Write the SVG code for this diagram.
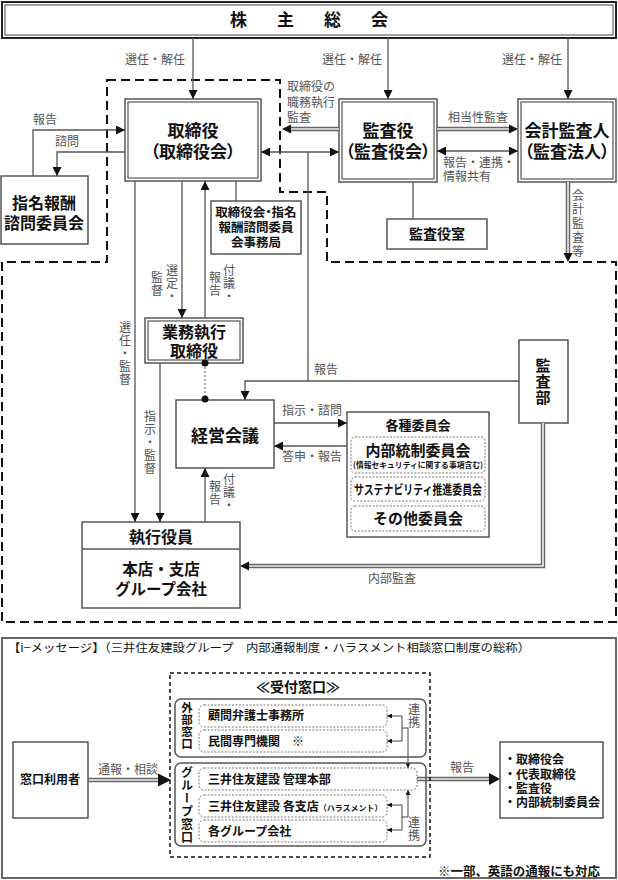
<svg xmlns="http://www.w3.org/2000/svg" width="618" height="880" viewBox="0 0 618 880">
<defs>
<marker id="ah" viewBox="0 0 10 10" refX="10" refY="5" markerWidth="9" markerHeight="9" markerUnits="userSpaceOnUse" orient="auto-start-reverse"><path d="M0,0L10,5L0,10z" fill="#111"/></marker>
<marker id="as" viewBox="0 0 10 10" refX="10" refY="5" markerWidth="5" markerHeight="5" markerUnits="userSpaceOnUse" orient="auto-start-reverse"><path d="M0,0L10,5L0,10z" fill="#111"/></marker>
</defs>
<style>
.bx{fill:#fff;stroke:#555;stroke-width:1.5}
.bi{fill:none;stroke:#555;stroke-width:1.2}
.ln{fill:none;stroke:#555;stroke-width:1.3}
.lt{fill:none;stroke:#444;stroke-width:1}
.t{font-family:"Noto Sans CJK JP","Noto Sans",sans-serif;font-weight:bold;fill:#111}
.p{font-feature-settings:"palt"}
.lb{font-family:"Noto Sans CJK JP","Noto Sans",sans-serif;fill:#555;font-size:12px}
.vt{writing-mode:vertical-rl;text-anchor:middle}
.m{text-anchor:middle}
.dsh{fill:none;stroke:#111;stroke-width:2;stroke-dasharray:9 5}
.dot{fill:#fff;stroke:#777;stroke-width:1;stroke-dasharray:2 1.5}
.d1{fill:none;stroke:#666;stroke-width:4.5}
.d2{fill:none;stroke:#eee;stroke-width:1.6}
.ahf{fill:#111}
</style>
<rect width="618" height="880" fill="#fff"/>

<!-- dashed region -->
<polygon class="dsh" points="107,80 280,80 280,192 327,192 327,262 616,262 616,622 2,622 2,262 107,262"/>

<g id="n-kabunushi">
<rect x="2" y="2" width="614" height="36" fill="#fff" stroke="#222" stroke-width="2"/>
<rect x="5" y="5" width="608" height="30" fill="none" stroke="#444" stroke-width="1"/>
<text class="t" font-size="17" y="26"><tspan x="230">株</tspan><tspan x="277">主</tspan><tspan x="324">総</tspan><tspan x="371">会</tspan></text>
</g>

<g id="n-torishimari">
<rect class="bx" x="125" y="99" width="136" height="82"/>
<rect class="bi" x="128" y="102" width="130" height="76"/>
<text class="t m" x="193" y="137" font-size="17">取締役</text>
<text class="t m p" x="193" y="158" font-size="17">（取締役会）</text>
</g>

<g id="n-kansayaku">
<rect class="bx" x="339" y="99" width="98" height="83"/>
<rect class="bi" x="342" y="102" width="92" height="77"/>
<text class="t m" x="388" y="137" font-size="17">監査役</text>
<text class="t m p" x="388" y="158" font-size="17">（監査役会）</text>
</g>

<g id="n-kaikei">
<rect class="bx" x="518" y="99" width="98" height="83"/>
<rect class="bi" x="521" y="102" width="92" height="77"/>
<text class="t m" x="567" y="137" font-size="17">会計監査人</text>
<text class="t m p" x="567" y="158" font-size="17">（監査法人）</text>
</g>

<g id="n-shimei">
<rect class="bx" x="1" y="176" width="87" height="68"/>
<text class="t m" x="44" y="209" font-size="16">指名報酬</text>
<text class="t m" x="44" y="229" font-size="16">諮問委員会</text>
</g>

<g id="n-jimukyoku">
<rect class="bx" x="211" y="201" width="90" height="53"/>
<text class="t m p" x="256" y="217" font-size="12.5">取締役会・指名</text>
<text class="t m" x="256" y="232" font-size="12.5">報酬諮問委員</text>
<text class="t m" x="256" y="247" font-size="12.5">会事務局</text>
</g>

<g id="n-kansayakushitsu">
<rect class="bx" x="387" y="219" width="100" height="30"/>
<text class="t m" x="437" y="239" font-size="14">監査役室</text>
</g>

<g id="n-gyomu">
<rect class="bx" x="145" y="318" width="98" height="45"/>
<rect class="bi" x="148" y="321" width="92" height="39"/>
<text class="t m" x="194" y="338" font-size="16">業務執行</text>
<text class="t m" x="194" y="357" font-size="16">取締役</text>
</g>

<g id="n-keiei">
<rect class="bx" x="176" y="400" width="98" height="68"/>
<text class="t m" x="225" y="442" font-size="17">経営会議</text>
</g>

<g id="n-iinkai">
<rect class="bx" x="347" y="412" width="142" height="125"/>
<text class="t m" x="418" y="430" font-size="13">各種委員会</text>
<rect class="dot" x="351" y="437" width="134" height="36" rx="4"/>
<text class="t m" x="418" y="456" font-size="15">内部統制委員会</text>
<text class="t m" x="418" y="468" font-size="8" textLength="130" lengthAdjust="spacingAndGlyphs">(情報セキュリティに関する事項含む)</text>
<rect class="dot" x="351" y="477" width="134" height="24" rx="4"/>
<text class="t m" x="418" y="494" font-size="13" textLength="128" lengthAdjust="spacingAndGlyphs">サステナビリティ推進委員会</text>
<rect class="dot" x="351" y="506" width="134" height="25" rx="4"/>
<text class="t m" x="418" y="524" font-size="15">その他委員会</text>
</g>

<g id="n-kansabu">
<rect class="bx" x="519" y="340" width="49" height="83"/>
<text class="t vt" x="543" y="382" font-size="15" letter-spacing="1">監査部</text>
</g>

<g id="n-shikko">
<rect class="bx" x="82" y="522" width="158" height="86"/>
<line x1="82" y1="549" x2="240" y2="549" stroke="#555" stroke-width="1.3"/>
<text class="t m" x="161" y="543" font-size="16">執行役員</text>
<text class="t m" x="161" y="575" font-size="15.5">本店・支店</text>
<text class="t m" x="161" y="595" font-size="15.5">グループ会社</text>
</g>

<g id="connectors">
<path class="ln" d="M193,38V99" marker-end="url(#ah)"/>
<path class="ln" d="M388,38V99" marker-end="url(#ah)"/>
<path class="ln" d="M568,38V99" marker-end="url(#ah)"/>
<path class="ln" d="M33,176V130H125" marker-end="url(#ah)"/>
<path class="ln" d="M125,152H57V176" marker-end="url(#ah)"/>
<path class="ln" d="M261,152H339" marker-start="url(#ah)" marker-end="url(#ah)"/>
<path class="ln" d="M308,152V381"/>
<path class="ln" d="M519,381H245V400" marker-end="url(#ah)"/>
<path class="ln" d="M413,182V219"/>
<path class="ln" d="M236,181V201"/>
<path class="ln" d="M135,181V522" marker-end="url(#ah)"/>
<path class="ln" d="M182,181V318" marker-end="url(#ah)"/>
<path class="ln" d="M205,318V181" marker-end="url(#ah)"/>
<path d="M205,363V399" fill="none" stroke="#666" stroke-width="1" stroke-dasharray="2 2"/>
<circle cx="205" cy="363" r="3.5" fill="#111"/>
<circle cx="205" cy="399" r="3.5" fill="#111"/>
<path class="ln" d="M160,363V522" marker-end="url(#ah)"/>
<path class="ln" d="M274,423H347" marker-end="url(#ah)"/>
<path class="ln" d="M347,446H274" marker-end="url(#ah)"/>
<path class="ln" d="M205,522V468" marker-end="url(#ah)"/>
<path class="ln" d="M437,151H518" marker-start="url(#ah)" marker-end="url(#ah)"/>
<path class="d1" d="M339,129H290"/><path class="d2" d="M339,129H290"/>
<polygon class="ahf" points="282,129 291,124.5 291,133.5"/>
<path class="d1" d="M437,129H510"/><path class="d2" d="M437,129H510"/>
<polygon class="ahf" points="518,129 509,124.5 509,133.5"/>
<path class="d1" d="M568,182V254"/><path class="d2" d="M568,182V254"/>
<polygon class="ahf" points="568,262 563.5,253 572.5,253"/>
<path class="d1" d="M543,423V566H248"/><path class="d2" d="M543,423V566H248"/>
<polygon class="ahf" points="240,566 249,561.5 249,570.5"/>
<path class="d1" d="M88,780H160"/><path class="d2" d="M88,780H160"/>
<polygon class="ahf" points="171,780 158,773.5 158,786.5"/>
<path class="d1" d="M417,779H490"/><path class="d2" d="M417,779H490"/>
<polygon class="ahf" points="500,779 489,773 489,785"/>
<path class="lt" d="M402,716H387" marker-end="url(#as)"/>
<path class="lt" d="M402,741H387" marker-end="url(#as)"/>
<path class="lt" d="M402,716V741"/>
<path class="lt" d="M402,728H408V768" marker-end="url(#as)"/>
<path class="lt" d="M402,805H387" marker-end="url(#as)"/>
<path class="lt" d="M402,830H387" marker-end="url(#as)"/>
<path class="lt" d="M402,805V830"/>
<path class="lt" d="M402,817H408V790" marker-end="url(#as)"/>
</g>

<g id="labels">
<text class="lb" x="185" y="64" text-anchor="end">選任・解任</text>
<text class="lb" x="382" y="64" text-anchor="end">選任・解任</text>
<text class="lb" x="562" y="64" text-anchor="end">選任・解任</text>
<text class="lb" x="45" y="124" text-anchor="middle">報告</text>
<text class="lb" x="67" y="146" text-anchor="middle">諮問</text>
<text class="lb" x="287" y="91">取締役の</text>
<text class="lb" x="287" y="107">職務執行</text>
<text class="lb" x="287" y="122">監査</text>
<text class="lb" x="448" y="122">相当性監査</text>
<text class="lb" x="443" y="167">報告・連携・</text>
<text class="lb" x="443" y="181">情報共有</text>
<text class="lb vt" x="578" y="224" font-size="11" letter-spacing="2">会計監査等</text>
<text class="lb vt" x="172" y="284" font-size="11" letter-spacing="1">選定・</text>
<text class="lb vt" x="157" y="284" font-size="11" letter-spacing="1">監督</text>
<text class="lb vt" x="229" y="284" font-size="11" letter-spacing="1">付議・</text>
<text class="lb vt" x="215" y="284" font-size="11" letter-spacing="1">報告</text>
<text class="lb vt" x="125" y="354" font-size="11" letter-spacing="1">選任・監督</text>
<text class="lb vt" x="150" y="443" font-size="11" letter-spacing="1">指示・監督</text>
<text class="lb vt" x="229" y="493" font-size="11" letter-spacing="1">付議・</text>
<text class="lb vt" x="215" y="493" font-size="11" letter-spacing="1">報告</text>
<text class="lb" x="326" y="374" text-anchor="middle">報告</text>
<text class="lb" x="282" y="415">指示・諮問</text>
<text class="lb" x="282" y="461">答申・報告</text>
<text class="lb" x="392" y="583" text-anchor="middle">内部監査</text>
<text class="lb" x="128" y="774" text-anchor="middle">通報・相談</text>
<text class="lb" x="462" y="772" text-anchor="middle">報告</text>
<text class="lb vt" x="414" y="716" font-size="11" letter-spacing="1">連携</text>
<text class="lb vt" x="414" y="829" font-size="11" letter-spacing="1">連携</text>
</g>

<g id="n-imessage">
<rect x="2" y="638" width="614" height="240" fill="none" stroke="#666" stroke-width="2"/>
<text x="8" y="652" font-family="'Noto Sans CJK JP',sans-serif" font-size="11.5" fill="#111" textLength="522" lengthAdjust="spacingAndGlyphs">【i−メッセージ】（三井住友建設グループ　内部通報制度・ハラスメント相談窓口制度の総称）</text>
<text class="t" x="438" y="876" font-size="12.5" textLength="162" lengthAdjust="spacingAndGlyphs">※一部、英語の通報にも対応</text>
</g>

<g id="n-uketsuke">
<rect x="170" y="673" width="260" height="184" fill="none" stroke="#111" stroke-width="1.5" stroke-dasharray="4 3"/>
<text class="t m" x="298" y="692" font-size="14">≪受付窓口≫</text>
</g>

<g id="n-gaibu">
<rect x="175" y="699" width="251" height="58" rx="6" fill="none" stroke="#555" stroke-width="1.5"/>
<text class="t vt" x="187" y="726" font-size="11.5" letter-spacing="0.5">外部窓口</text>
<rect class="dot" x="199" y="705" width="188" height="22" rx="5"/>
<text class="t" x="208" y="720" font-size="12">顧問弁護士事務所</text>
<rect class="dot" x="199" y="730" width="188" height="22" rx="5"/>
<text class="t" x="208" y="746" font-size="12">民間専門機関　※</text>
</g>

<g id="n-group">
<rect x="175" y="763" width="251" height="83" rx="6" fill="none" stroke="#555" stroke-width="1.5"/>
<text class="t vt" x="187" y="805" font-size="12" letter-spacing="1">グループ窓口</text>
<rect class="dot" x="199" y="768" width="218" height="22" rx="5"/>
<text class="t" x="208" y="784" font-size="12">三井住友建設 管理本部</text>
<rect class="dot" x="199" y="795" width="188" height="22" rx="5"/>
<text class="t" x="208" y="811" font-size="12">三井住友建設 各支店<tspan font-size="8">（ハラスメント）</tspan></text>
<rect class="dot" x="199" y="820" width="188" height="22" rx="5"/>
<text class="t" x="208" y="836" font-size="12">各グループ会社</text>
</g>

<g id="n-riyosha">
<rect class="bx" x="13" y="742" width="75" height="76"/>
<text class="t m" x="50" y="784" font-size="12">窓口利用者</text>
</g>

<g id="n-hokokusaki">
<rect class="bx" x="500" y="742" width="103" height="76"/>
<text class="t" x="504" y="764" font-size="12">・取締役会</text>
<text class="t" x="504" y="779" font-size="12">・代表取締役</text>
<text class="t" x="504" y="793" font-size="12">・監査役</text>
<text class="t" x="504" y="807" font-size="12">・内部統制委員会</text>
</g>
</svg>
